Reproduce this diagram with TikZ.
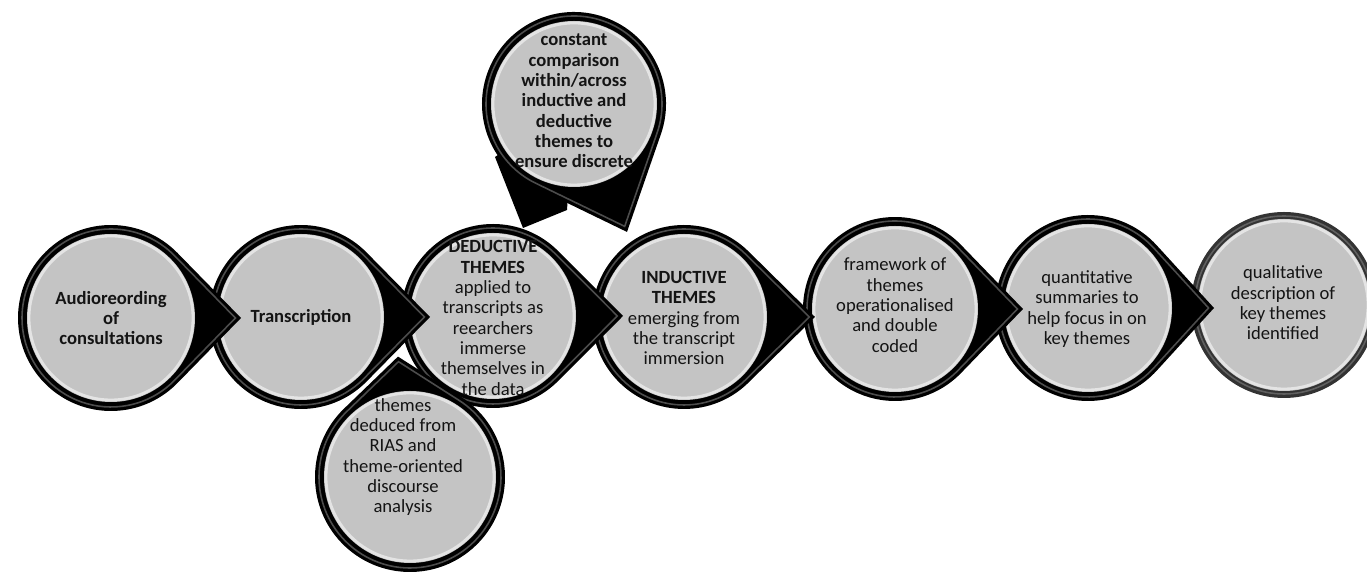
\documentclass[tikz,border=0pt]{standalone}
\usepackage{fontspec}
\setmainfont{Carlito}
\usetikzlibrary{calc}
\definecolor{bubblegray}{RGB}{196,196,196}
\definecolor{txt}{RGB}{20,20,20}
\tikzset{
  ringhl/.style={draw=gray!60!black, line width=0.9pt},
  innerfill/.style={fill=bubblegray},
  innerhl/.style={draw=white, line width=1.6pt, opacity=0.55},
  lbl/.style={align=center, text=txt, font=\fontsize{10.6}{11.6}\selectfont, inner sep=0pt},
  blbl/.style={lbl, font=\bfseries\fontsize{10.6}{11.6}\selectfont},
}
% teardrop: cx, cy, R, tip angle, tip distance, name
\newcommand\tdrop[6]{%
  \pgfmathsetmacro\tA{acos(#3/#5)}%
  \pgfmathsetmacro\tR{#3-4}%
  \pgfmathsetmacro\tD{#5*(#3-4)/#3}%
  \pgfmathsetmacro\tI{#3-9}%
  \pgfmathsetmacro\tH{#3-11}%
  \pgfmathsetmacro\sA{#4+\tA}%
  \pgfmathsetmacro\eA{#4-\tA+360}%
  \coordinate (#6) at (#1,#2);
  \fill[black] ($(#6)+(#4:#5)$) -- ($(#6)+(\sA:#3)$) arc[start angle=\sA, end angle=\eA, radius=#3] -- cycle;
  \draw[ringhl] ($(#6)+(#4:\tD)$) -- ($(#6)+(\sA:\tR)$) arc[start angle=\sA, end angle=\eA, radius=\tR] -- cycle;
  \fill[innerfill] (#6) circle[radius=\tI];
  \draw[innerhl] (#6) circle[radius=\tH];
}
\begin{document}
\begin{tikzpicture}[x=0.02cm,y=0.02cm]
\useasboundingbox (0,0) rectangle (1367,574);
% last circle (plain)
\coordinate (c7) at (1284,269);
\fill[gray!40!black] (c7) circle[radius=93];
\draw[gray!75!black, line width=0.9pt] (c7) circle[radius=89];
\fill[innerfill] (c7) circle[radius=86];
\draw[innerhl] (c7) circle[radius=84];
% row, right to left
\tdrop{1088}{266}{93}{0}{126}{c6}
\tdrop{895}{265}{92}{0}{128}{c5}
\tdrop{684}{257}{92}{0}{131}{c4}
\tdrop{493}{258}{92}{0}{130}{c3}
\tdrop{301}{257}{92}{0}{129}{c2}
\tdrop{111}{256}{93}{0}{130}{c1}
% top bubble
\coordinate (tt1) at (495,417);
\coordinate (tt2) at (523,346);
\coordinate (tt3) at (567,364);
\fill[black] (tt1) -- (tt2) -- (tt3) -- (574,470) -- cycle;
\tdrop{574}{470}{92}{292.5}{138.5}{ct}
% bottom bubble
\tdrop{410}{97}{95}{95.7}{121}{cb}
% texts
\node[blbl] (t1) at (111,256) {Audioreording\\of\\consultations};
\node[blbl] (t2) at (301,257) {Transcription};
\node[lbl] (t3) at (493,256) {\textbf{DEDUCTIVE}\\\textbf{THEMES}\\applied to\\transcripts as\\reearchers\\immerse\\themselves in\\the data};
\node[lbl] (t4) at (684,256) {\textbf{INDUCTIVE}\\\textbf{THEMES}\\emerging from\\the transcript\\immersion};
\node[lbl] (t5) at (895,269) {framework of\\themes\\operationalised\\and double\\coded};
\node[lbl] (t6) at (1087,265) {quantitative\\summaries to\\help focus in on\\key themes};
\node[lbl] (t7) at (1283,271) {qualitative\\description of\\key themes\\identified};
\node[blbl] (tt) at (574,473) {constant\\comparison\\within/across\\inductive and\\deductive\\themes to\\ensure discrete};
\node[lbl] (tb) at (403,117) {themes\\deduced from\\RIAS and\\theme-oriented\\discourse\\analysis};
\end{tikzpicture}
\end{document}
